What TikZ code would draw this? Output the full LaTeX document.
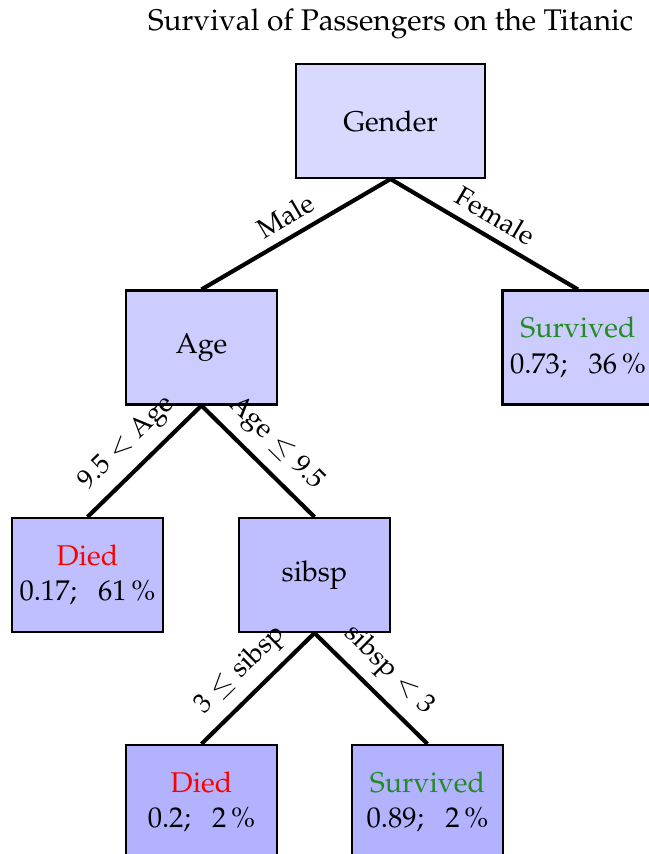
\documentclass[tikz,border=0pt]{standalone}
\usepackage[T1]{fontenc}
\usepackage{mathpazo}
\usepackage{amsmath}
\usepackage{tikz}

\definecolor{survgreen}{RGB}{34,139,34}

\begin{document}
\begin{tikzpicture}[
			every node/.style={draw, thick, rectangle, align=center, minimum width=2.043cm, minimum height=1.542cm, inner sep=2pt, font=\fontsize{11}{13.5}\selectfont},
			every path/.style={ultra thick},
			lab/.style={draw=none, fill=none, minimum width=0pt, minimum height=0pt, inner sep=4pt, sloped, above, midway, font=\fontsize{10.5}{12}\selectfont}]

			\useasboundingbox (0,0) rectangle (8.781,-11.555);
			\node[draw=none, minimum height=0pt, font=\fontsize{11.5}{14}\selectfont] (title) at (5.284,-0.325) {Survival of Passengers on the Titanic};

			% Define the root
			\node[fill=blue!15, minimum width=2.557cm] (gender) at (5.284,-1.637) {Gender};

			% Define the nodes for the second level
			\node[fill=blue!20] (age) at (2.726,-4.702) {Age};
			\node[fill=blue!20] (surv1) at (7.820,-4.702) {\textcolor{survgreen}{Survived}\\0.73;\hspace{0.75em}36\,\%};

			% Define the nodes for the third level
			\node[fill=blue!25] (died1) at (1.184,-7.780) {\textcolor{red}{Died}\\0.17;\hspace{0.75em}61\,\%};
			\node[fill=blue!25] (sibsp) at (4.255,-7.780) {sibsp};

			% Define the nodes for the fourth level
			\node[fill=blue!30] (died2) at (2.726,-10.851) {\textcolor{red}{Died}\\0.2;\hspace{0.75em}2\,\%};
			\node[fill=blue!30] (surv2) at (5.784,-10.851) {\textcolor{survgreen}{Survived}\\0.89;\hspace{0.75em}2\,\%};

			% Draw the branches
			\draw (gender.south) -- node[lab] {Male} (age.north);
			\draw (gender.south) -- node[lab] {Female} (surv1.north);
			\draw (age.south) -- node[lab] {$9.5 < \text{Age}$} (died1.north);
			\draw (age.south) -- node[lab] {$\text{Age} \leq 9.5$} (sibsp.north);
			\draw (sibsp.south) -- node[lab] {$3 \leq \text{sibsp}$} (died2.north);
			\draw (sibsp.south) -- node[lab] {$\text{sibsp} < 3$} (surv2.north);
		\end{tikzpicture}
\end{document}
